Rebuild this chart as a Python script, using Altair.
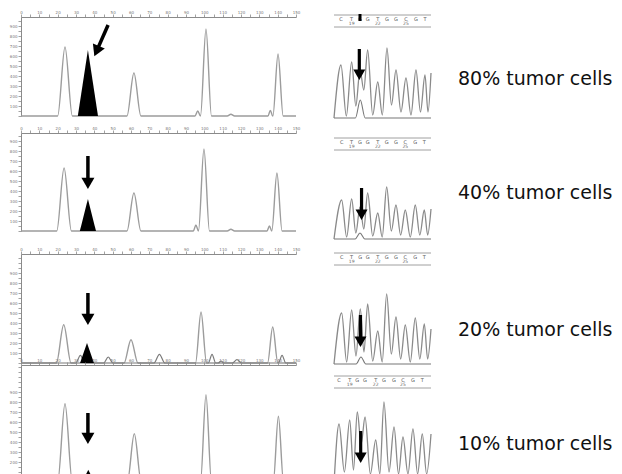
import math
import altair as alt
import pandas as pd

# ---------------- values ----------------
# Fragment-analysis electropherograms (x: size units, y: RFU), one list per panel
ep_peak_x = [
    [24.0, 61.6, 96.4, 100.9, 114.5, 136.0, 140.2],
    [23.5, 61.6, 95.4, 99.8, 114.5, 135.5, 139.6],
    [23.3, 60.0, 98.2, 137.3],
    [24.0, 61.8, 96.3, 100.9, 114.5, 136.0, 140.4],
]
ep_peak_h = [
    [690, 430, 50, 870, 17, 55, 620],
    [630, 380, 60, 820, 17, 50, 580],
    [383, 233, 510, 360],
    [783, 483, 50, 873, 17, 55, 657],
]
ep_peak_w = [
    [4.0, 3.8, 1.5, 3.0, 2.0, 1.3, 2.8],
    [4.0, 3.8, 1.4, 3.0, 2.0, 1.3, 2.8],
    [4.0, 3.8, 3.0, 2.8],
    [4.0, 3.8, 1.5, 3.0, 2.0, 1.3, 2.8],
]
# second (darker) channel visible in the 20% panel
ep2_peak_x = [32.4, 47.6, 75.5, 104.2, 109.1, 117.8, 142.4]
ep2_peak_h = [77, 60, 87, 87, 20, 33, 77]
ep2_peak_w = [2.5, 2.5, 3.0, 2.0, 1.5, 2.5, 2.0]
# mutant peak (filled black)
mut_x = [36.5, 36.5, 36.0, 36.7]
mut_h = [660, 320, 200, 123]
mut_w = [5.5, 4.4, 3.8, 3.3]
# arrows: (x, RFU) of tail and tip
ep_arrow_tail = [(47.5, 910), (36.5, 750), (36.5, 700), (36.5, 690)]
ep_arrow_tip = [(40.0, 597), (36.5, 420), (36.5, 380), (36.5, 380)]

# Sanger traces (x: base position units, y: signal)
bases = ["C", "T", "G", "G", "T", "G", "G", "C", "G", "T"]
base_numbers = ["", "19", "", "", "22", "", "", "25", "", ""]
seq_peak_x = [
    [0.72, 1.82, 2.68, 3.47, 4.51, 5.46, 6.39, 7.42, 8.45, 9.38],
    [0.79, 1.82, 2.68, 3.47, 4.51, 5.43, 6.39, 7.35, 8.38, 9.31],
    [0.79, 1.82, 2.71, 3.47, 4.51, 5.43, 6.39, 7.35, 8.38, 9.31],
    [0.52, 1.62, 2.40, 3.20, 4.30, 5.15, 6.19, 7.11, 8.14, 9.10],
]
seq_peak_h = [
    [53, 56, 48, 68, 36, 70, 48, 40, 48, 43],
    [39, 40, 32, 46, 26, 52, 34, 29, 34, 29],
    [51, 54, 55, 60, 33, 70, 47, 39, 46, 40],
    [60, 64, 72, 67, 44, 82, 57, 47, 55, 50],
]
seq_valley_h = [
    [2, 12, 28, 3, 3, 13, 6, 3, 6],
    [2, 6, 10, 3, 2, 8, 4, 2, 4],
    [2, 8, 12, 3, 2, 10, 5, 2, 5],
    [12, 14, 40, 10, 10, 12, 10, 10, 10],
]
seq_tail = [(6, 45), (4, 30), (5, 35), (10, 50)]
seq_minor_x = [2.71, 2.68, 2.78, 2.75]
seq_minor_h = [18, 6, 7, 6]
seq_arrow_x = [2.61, 2.84, 2.73, 2.75]
seq_arrow_tail = [69, 51, 49, 53]
seq_arrow_tip = [38, 19, 17, 21]
labels = ["80% tumor cells", "40% tumor cells", "20% tumor cells", "10% tumor cells"]

# ---------------- layout ----------------
EP_W = 275
EP_H = [99, 98, 109, 117]
EP_XMAX = 150
SQ_W = 97
SQ_XMAX = 10
SQ_H = [116, 121, 111, 119]
SQ_DOM = [(-15, 101), (-15, 106), (-1, 110), (0, 119)]
RULER_TOP = [103, 101, 111, 108]
LABEL_Y = [67.7, 65.5, 81.5, 84.5]
GREY = "#9c9c9c"
AXC = "#8a8a8a"
FONT = "DejaVu Sans"


def increasing(pts):
    out = []
    for x, y in pts:
        if out and x <= out[-1][0]:
            continue
        out.append((x, y))
    return pd.DataFrame({"x": [p[0] for p in out], "y": [p[1] for p in out],
                         "i": list(range(len(out)))})


def peak_profile(xs, hs, ws, x0, x1):
    pts = [(x0, 0.0)]
    for c, h, w in sorted(zip(xs, hs, ws)):
        pts += [(c - w, 0.0), (c, h), (c + w, 0.0)]
    pts.append((x1, 0.0))
    return increasing(pts)


def seq_profile(xs, hs, vs, tail):
    pts = [(0.0, 0.0)]
    for k, (c, h) in enumerate(zip(xs, hs)):
        pts.append((c, h))
        if k < len(vs):
            pts.append(((c + xs[k + 1]) / 2, vs[k]))
    pts.append(((xs[-1] + SQ_XMAX) / 2, tail[0]))
    pts.append((SQ_XMAX, tail[1]))
    return increasing(pts)


def arrow_geom(tail, tip, sx, sy, size):
    dx = (tip[0] - tail[0]) * sx
    dy = -(tip[1] - tail[1]) * sy
    L = math.hypot(dx, dy)
    ux, uy = dx / L, dy / L
    hh = 0.866 * math.sqrt(size) / 2
    cx = tip[0] - ux * hh / sx
    cy = tip[1] + uy * hh / sy
    ang = math.degrees(math.atan2(-dx, dy)) % 360
    if abs(ang) < 1e-6 or abs(ang - 360) < 1e-6:
        ang = 0.0
    return cx, cy, ang


def arrow_layers(tail, tip, sx, sy, size, width, X, Y):
    cx, cy, ang = arrow_geom(tail, tip, sx, sy, size)
    shaft = alt.Chart(pd.DataFrame({"x": [tail[0]], "y": [tail[1]], "x2": [cx], "y2": [cy]})).mark_rule(
        color="black", strokeWidth=width, strokeCap="butt"
    ).encode(x=X, y=Y, x2="x2:Q", y2="y2:Q")
    head = alt.Chart(pd.DataFrame({"x": [cx], "y": [cy]})).mark_point(
        shape="triangle-down", filled=True, color="black", opacity=1, size=size,
        strokeWidth=0, angle=ang
    ).encode(x=X, y=Y)
    return [shaft, head]


def ep_panel(k):
    h = EP_H[k]
    ymax = h * 10
    xs = alt.Scale(domain=[0, EP_XMAX], nice=False, zero=False)
    ys = alt.Scale(domain=[0, ymax], nice=False)
    ax = alt.Axis(orient="top", values=list(range(0, EP_XMAX + 1, 5)),
                  labelExpr="datum.value % 10 == 0 ? datum.label : ''",
                  tickSize=3, tickWidth=0.8, labelFontSize=4, labelPadding=0,
                  labelColor="#777", tickColor=AXC, domainColor=AXC, grid=False,
                  labelFlush=False, labelOverlap=False, title=None, labelFont=FONT)
    low = 100 if k < 3 else 200
    ay = alt.Axis(orient="left", values=list(range(0, ymax + 1, 50)), format="d",
                  labelExpr=f"datum.value % 100 == 0 && datum.value >= {low} && datum.value < 1000 ? datum.label : ''",
                  tickSize=3, tickWidth=0.8, labelFontSize=4, labelPadding=1,
                  labelColor="#777", tickColor=AXC, domainColor=AXC, grid=False,
                  labelFlush=False, labelOverlap=False, title=None, labelFont=FONT)
    X = alt.X("x:Q", scale=xs, axis=ax, title=None)
    Y = alt.Y("y:Q", scale=ys, axis=ay, title=None)
    layers = [
        alt.Chart(peak_profile(ep_peak_x[k], ep_peak_h[k], ep_peak_w[k], 0, EP_XMAX)).mark_line(
            interpolate="monotone", color=GREY, strokeWidth=1.4
        ).encode(x=X, y=Y, order="i:Q")
    ]
    if k == 2:
        layers.append(
            alt.Chart(peak_profile(ep2_peak_x, ep2_peak_h, ep2_peak_w, 0, EP_XMAX)).mark_line(
                interpolate="monotone", color="#7a7a7a", strokeWidth=1.2
            ).encode(x=X, y=Y, order="i:Q")
        )
    mdf = pd.DataFrame({"x": [mut_x[k] - mut_w[k], mut_x[k], mut_x[k] + mut_w[k]],
                        "y": [0, mut_h[k], 0]})
    layers.append(alt.Chart(mdf).mark_area(color="black", interpolate="linear").encode(x=X, y=Y))
    layers += arrow_layers(ep_arrow_tail[k], ep_arrow_tip[k], EP_W / EP_XMAX, h / ymax,
                           169, 3.5, X, Y)
    return alt.layer(*layers).properties(width=EP_W, height=h)


def sq_panel(k):
    lo, hi = SQ_DOM[k]
    xs = alt.Scale(domain=[0, SQ_XMAX], nice=False, zero=False)
    ys = alt.Scale(domain=[lo, hi], nice=False, zero=False)
    X = alt.X("x:Q", scale=xs, axis=None)
    Y = alt.Y("y:Q", scale=ys, axis=None)
    top = RULER_TOP[k]
    layers = []
    layers.append(
        alt.Chart(seq_profile(seq_peak_x[k], seq_peak_h[k], seq_valley_h[k], seq_tail[k])).mark_line(
            interpolate="monotone", color="#8a8a8a", strokeWidth=1.3
        ).encode(x=X, y=Y, order="i:Q")
    )
    mx, mh = seq_minor_x[k], seq_minor_h[k]
    layers.append(
        alt.Chart(increasing([(0, 0), (mx - 0.5, 0), (mx, mh), (mx + 0.5, 0), (SQ_XMAX, 0)])).mark_line(
            interpolate="monotone", color="#777777", strokeWidth=1.1
        ).encode(x=X, y=Y, order="i:Q")
    )
    rdf = pd.DataFrame({"x": [0, 0], "x2": [SQ_XMAX, SQ_XMAX], "y": [top, top - 12]})
    layers.append(alt.Chart(rdf).mark_rule(color="#a0a0a0", strokeWidth=1).encode(x=X, x2="x2:Q", y=Y))
    ldf = pd.DataFrame({"x": seq_peak_x[k], "y": [top - 3.5] * len(bases), "t": bases})
    layers.append(alt.Chart(ldf).mark_text(fontSize=5, color="#555", font=FONT).encode(x=X, y=Y, text="t:N"))
    ndf = pd.DataFrame({"x": seq_peak_x[k], "y": [top - 9] * len(bases), "t": base_numbers})
    ndf = ndf[ndf["t"] != ""]
    layers.append(alt.Chart(ndf).mark_text(fontSize=4.5, color="#666", font=FONT).encode(x=X, y=Y, text="t:N"))
    if k == 0:
        bdf = pd.DataFrame({"x": [seq_peak_x[k][2]], "y": [top + 1], "y2": [top - 6]})
        layers.append(alt.Chart(bdf).mark_rule(color="black", strokeWidth=3).encode(x=X, y=Y, y2="y2:Q"))
    layers += arrow_layers((seq_arrow_x[k], seq_arrow_tail[k]), (seq_arrow_x[k], seq_arrow_tip[k]),
                           SQ_W / SQ_XMAX, SQ_H[k] / (hi - lo), 144, 3.2, X, Y)
    tdf = pd.DataFrame({"t": [labels[k]]})
    layers.append(
        alt.Chart(tdf).mark_text(align="left", baseline="alphabetic", fontSize=19, font=FONT,
                                 color="#111").encode(x=alt.value(124), y=alt.value(LABEL_Y[k]), text="t:N")
    )
    return alt.layer(*layers).properties(width=SQ_W, height=SQ_H[k])


panels = []
for k in range(4):
    panels += [ep_panel(k), sq_panel(k)]

chart = alt.concat(*panels, columns=2, spacing={"row": 0, "column": 38}, bounds="flush").properties(
    padding={"left": 1, "top": 2, "right": 0, "bottom": 0}
).configure_view(stroke=None)

chart.save("out.html", embed_options={"renderer": "svg", "actions": False})
